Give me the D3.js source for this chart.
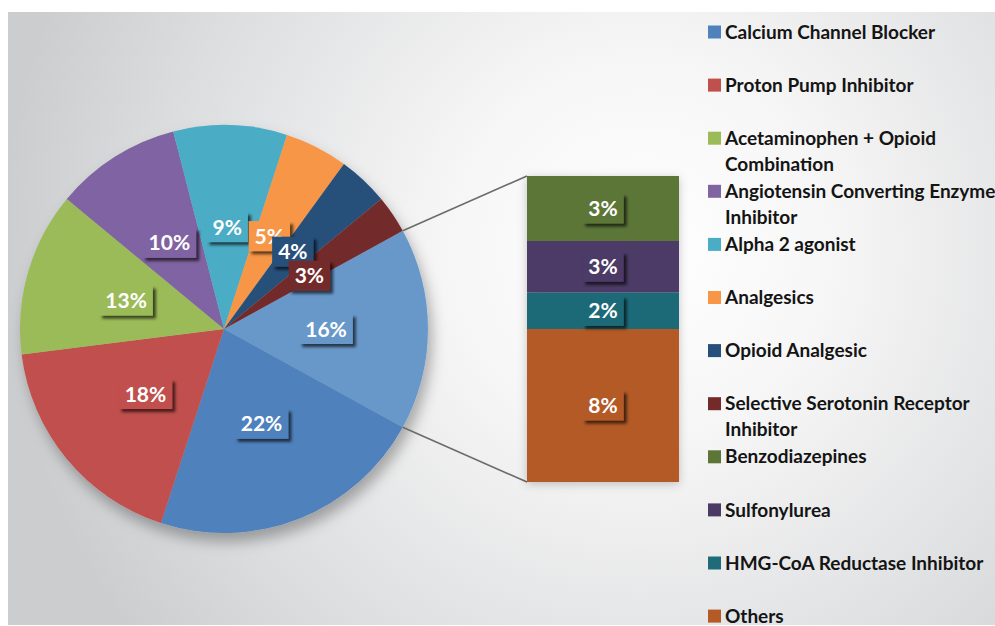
<!DOCTYPE html>
<html>
<head>
<meta charset="utf-8">
<script src="https://cdn.jsdelivr.net/npm/d3@7"></script>
<style>
  html, body { margin: 0; padding: 0; background: #fff; }
  svg { display: block; }
  text { font-family: Lato, "Open Sans", sans-serif; font-weight: 700; }
</style>
</head>
<body>
<svg id="chart"></svg>
<script>
// main pie categories (percent of prescriptions)
var pieLabels = ["Calcium Channel Blocker", "Proton Pump Inhibitor", "Acetaminophen + Opioid Combination",
  "Angiotensin Converting Enzyme Inhibitor", "Alpha 2 agonist", "Analgesics", "Opioid Analgesic",
  "Selective Serotonin Receptor Inhibitor"];
var pieValues = [22, 18, 13, 10, 9, 5, 4, 3];
var pieColors = ["#4f81bd", "#c0504d", "#9bbb59", "#8064a2", "#4bacc6", "#f79646", "#26507a", "#722a2a"];

// split out into the stacked bar
var barLabels = ["Benzodiazepines", "Sulfonylurea", "HMG-CoA Reductase Inhibitor", "Others"];
var barValues = [3.4, 2.7, 1.9, 8.0];
var barColors = ["#5c7637", "#4b3a66", "#1f6b78", "#b35a27"];
var otherColor = "#6898ca";

document.addEventListener("DOMContentLoaded", function() {
  var width = 995, height = 626;
  var svg = d3.select("#chart").attr("width", width).attr("height", height);
  var defs = svg.append("defs");

  var bg = defs.append("radialGradient").attr("id", "bg")
    .attr("gradientUnits", "userSpaceOnUse")
    .attr("cx", 640).attr("cy", 250).attr("r", 640);
  bg.append("stop").attr("offset", 0).attr("stop-color", "#ffffff");
  bg.append("stop").attr("offset", 0.3).attr("stop-color", "#f6f6f6");
  bg.append("stop").attr("offset", 0.75).attr("stop-color", "#dcdddf");
  bg.append("stop").attr("offset", 1).attr("stop-color", "#cbcdcf");

  function shadow(id, dx, dy, blur, opacity) {
    var f = defs.append("filter").attr("id", id)
      .attr("x", "-30%").attr("y", "-30%").attr("width", "160%").attr("height", "160%");
    f.append("feDropShadow").attr("dx", dx).attr("dy", dy)
      .attr("stdDeviation", blur).attr("flood-color", "#000").attr("flood-opacity", opacity);
  }
  shadow("pieShadow", 4, 9, 7, 0.3);
  shadow("barShadow", 0, 2, 5, 0.22);
  shadow("boxShadow", 3, 3, 1.5, 0.65);

  svg.append("rect").attr("x", 8).attr("y", 12).attr("width", width - 8).attr("height", height - 13)
    .attr("fill", "url(#bg)");

  var cx = 224, cy = 329, R = 204;
  var otherTotal = d3.sum(barValues);
  var total = d3.sum(pieValues) + otherTotal;

  var pieData = [{ label: "Other", value: otherTotal, color: otherColor }].concat(
    pieLabels.map(function(l, i) { return { label: l, value: pieValues[i], color: pieColors[i] }; }));

  var half = Math.PI * otherTotal / total;
  var pie = d3.pie().sort(null).value(function(d) { return d.value; })
    .startAngle(Math.PI / 2 - half).endAngle(Math.PI / 2 - half + 2 * Math.PI);
  var arcs = pie(pieData);
  var arc = d3.arc().innerRadius(0).outerRadius(R);

  var pieG = svg.append("g").attr("transform", "translate(" + cx + "," + cy + ")");
  pieG.append("g").attr("filter", "url(#pieShadow)")
    .selectAll("path").data(arcs).enter().append("path")
    .attr("d", arc)
    .attr("fill", function(d) { return d.data.color; });

  // stacked bar of the "other" slice
  var barX = 527, barW = 152, barTop = 176, barBottom = 482;
  var y = d3.scaleLinear().domain([0, otherTotal]).range([barTop, barBottom]);
  var cum = [0].concat(Array.from(d3.cumsum(barValues)));

  // connector lines
  var a0 = arcs[0].startAngle, a1 = arcs[0].endAngle;
  var connectors = [
    [cx + R * Math.sin(a0), cy - R * Math.cos(a0), barX, y(0)],
    [cx + R * Math.sin(a1), cy - R * Math.cos(a1), barX, y(otherTotal)]
  ];
  svg.selectAll("line.conn").data(connectors).enter().append("line")
    .attr("class", "conn")
    .attr("x1", function(d) { return d[0]; }).attr("y1", function(d) { return d[1]; })
    .attr("x2", function(d) { return d[2]; }).attr("y2", function(d) { return d[3]; })
    .attr("stroke", "#6b6b6b").attr("stroke-width", 1.6);

  svg.append("g").attr("filter", "url(#barShadow)")
    .selectAll("rect").data(barValues).enter().append("rect")
    .attr("x", barX).attr("width", barW)
    .attr("y", function(d, i) { return y(cum[i]); })
    .attr("height", function(d, i) { return y(cum[i + 1]) - y(cum[i]); })
    .attr("fill", function(d, i) { return barColors[i]; });

  // labels with filled boxes
  function boxLabel(g, x, yy, txt, color) {
    var lg = g.append("g");
    var box = lg.append("rect").attr("fill", color).attr("filter", "url(#boxShadow)");
    var t = lg.append("text").attr("x", x).attr("y", yy).attr("dy", "0.36em")
      .attr("text-anchor", "middle").attr("fill", "#fff").style("font-size", "21px")
      .text(txt);
    var w = t.node().getComputedTextLength();
    box.attr("x", x - w / 2 - 6).attr("y", yy - 15).attr("width", w + 12).attr("height", 30);
  }

  // the three thin slices crowd each other, spread their labels a little
  var nudge = { "Analgesics": [-1, -2], "Opioid Analgesic": [-1, -3], "Selective Serotonin Receptor Inhibitor": [1, 4] };
  arcs.forEach(function(d) {
    var c = arc.centroid(d);
    var n = nudge[d.data.label] || [0, 0];
    boxLabel(pieG, c[0] + n[0], c[1] + n[1], Math.round(d.value / total * 100) + "%", d.data.color);
  });
  barValues.forEach(function(v, i) {
    boxLabel(svg, barX + barW / 2, (y(cum[i]) + y(cum[i + 1])) / 2, Math.round(v / total * 100) + "%", barColors[i]);
  });

  // legend
  var legendItems = pieLabels.map(function(l, i) { return { label: l, color: pieColors[i] }; })
    .concat(barLabels.map(function(l, i) { return { label: l, color: barColors[i] }; }));
  var legend = svg.append("g");
  var maxW = 272;
  legendItems.forEach(function(d, i) {
    var ly = 32 + i * 53.1;
    legend.append("rect").attr("x", 708).attr("y", ly - 6.5).attr("width", 13).attr("height", 13)
      .attr("fill", d.color);
    var t = legend.append("text").attr("x", 725).attr("y", ly).attr("dy", "0.35em")
      .attr("fill", "#141414").style("font-size", "19px");
    var words = d.label.split(" "), line = [];
    var tspan = t.append("tspan").attr("x", 725);
    words.forEach(function(w) {
      line.push(w);
      tspan.text(line.join(" "));
      if (tspan.node().getComputedTextLength() > maxW && line.length > 1) {
        line.pop();
        tspan.text(line.join(" "));
        line = [w];
        tspan = t.append("tspan").attr("x", 725).attr("dy", "26px").text(w);
      }
    });
  });
});
</script>
</body>
</html>
